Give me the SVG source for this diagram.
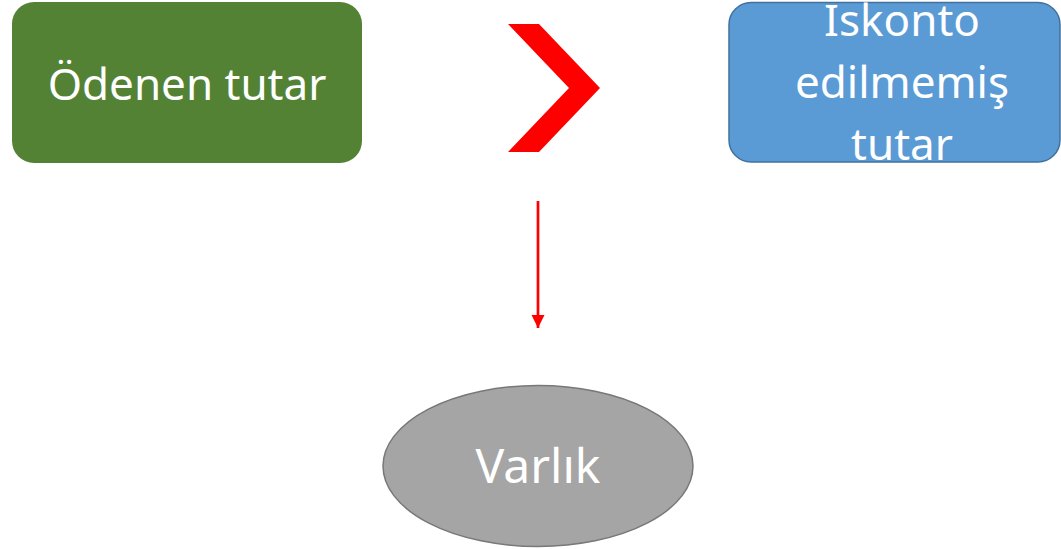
<svg xmlns="http://www.w3.org/2000/svg" width="1061" height="549" viewBox="0 0 1061 549">
<defs>
<style>
.lbl{font-family:"Noto Sans","Open Sans","DejaVu Sans",sans-serif;fill:#FFFFFF;text-anchor:middle}
</style>
<marker id="ah" viewBox="0 0 10 10" refX="10" refY="5" markerWidth="5" markerHeight="5" orient="auto" markerUnits="strokeWidth">
<path d="M0,0 L10,5 L0,10 Z" fill="#FF0000"/>
</marker>
</defs>
<rect width="1061" height="549" fill="#FFFFFF"/>
<g id="odenen">
<rect x="12" y="2" width="350" height="161" rx="22" fill="#548235"/>
<text class="lbl" x="187" y="100" font-size="44">Ödenen tutar</text>
</g>
<g id="chevron">
<polygon points="508,24 539,24 600,88 539,152 508,152 569,88" fill="#FF0000"/>
</g>
<g id="iskonto">
<rect x="729" y="2.5" width="331" height="159.5" rx="22" fill="#5B9BD5" stroke="#41719C" stroke-width="1.5"/>
<text class="lbl" font-size="44"><tspan x="902" y="36">Iskonto</tspan><tspan x="902" y="98">edilmemiş</tspan><tspan x="902" y="160">tutar</tspan></text>
</g>
<g id="varlik">
<ellipse cx="538" cy="466" rx="155" ry="80.5" fill="#A5A5A5" stroke="#787878" stroke-width="1.5"/>
<text class="lbl" x="538" y="483" font-size="48">Varlık</text>
</g>
<g id="connectors">
<line x1="538" y1="201" x2="538" y2="328" stroke="#FF0000" stroke-width="2.7" marker-end="url(#ah)"/>
</g>
</svg>
